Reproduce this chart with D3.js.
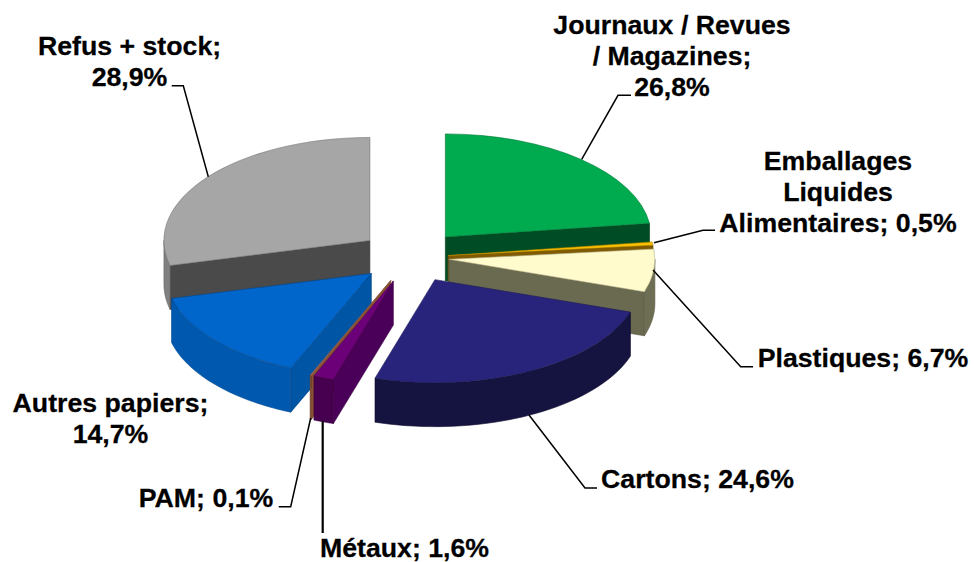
<!DOCTYPE html>
<html>
<head>
<meta charset="utf-8">
<script src="https://cdn.jsdelivr.net/npm/d3@7"></script>
<style>
  html, body { margin: 0; padding: 0; background: #fff; }
  text { font-family: "Liberation Sans", Arial, sans-serif; font-weight: bold; font-size: 25px; fill: #000; stroke: #000; stroke-width: 0.25; }
</style>
</head>
<body>
<svg id="chart" width="974" height="562"></svg>
<script>
// slices in drawing order, clockwise from the top
const categories = ['Journaux / Revues / Magazines', 'Emballages Liquides Alimentaires', 'Plastiques', 'Cartons', 'Métaux', 'PAM', 'Autres papiers', 'Refus + stock'];
// the printed labels add up to 103.9%: the green slice is drawn at about 22.9, not 26.8
const drawn_values = [22.9, 0.5, 6.7, 24.6, 1.6, 0.1, 14.7, 28.9];
const printed_labels = ['26,8%', '0,5%', '6,7%', '24,6%', '1,6%', '0,1%', '14,7%', '28,9%'];

const top_colors = ['#00AB50', '#FFC000', '#FFFBCC', '#28247C', '#6B0078', '#C8785A', '#0066CC', '#A6A6A6'];
const wall_colors = ['#004C24', '#7F5A00', '#6A6A50', '#15133F', '#4A0058', '#8A5030', '#0055A5', '#4A4A4A'];
const outer_colors = ['#004C24', '#7F5A00', '#6E6E55', '#15133F', '#46004F', '#8A5030', '#0059AF', '#808080'];

// the explosion is not the same for the two thin right hand slices
const explode_x = [0.253, 0.181, 0.185, 0.253, 0.253, 0.253, 0.253, 0.253];
const explode_y = [0.253, 0.08, 0.253, 0.253, 0.253, 0.253, 0.253, 0.253];
const paint_order = [7, 0, 1, 2, 6, 5, 4, 3];

const center = { x: 411, y: 256.5 };
const rx = 206, ry = 103, depth = 44;

const svg = d3.select('#chart');

const slices = d3.pie().sort(null).value(d => d)(drawn_values);
const arc = d3.arc().innerRadius(0).outerRadius(1);
const line = d3.line();

slices.forEach((s, i) => {
  const mid = (s.startAngle + s.endAngle) / 2;
  s.cx = center.x + explode_x[i] * rx * Math.sin(mid);
  s.cy = center.y - explode_y[i] * ry * Math.cos(mid);
});

const rim = (s, a, dy) => [s.cx + rx * Math.sin(a), s.cy - ry * Math.cos(a) + dy];

function drawSlice(i) {
  const s = slices[i];
  const g = svg.append('g');
  const a0 = s.startAngle, a1 = s.endAngle;

  // radial walls facing the viewer
  [a0, a1].forEach((a, k) => {
    const visible = k === 0 ? a > Math.PI : a < Math.PI;
    if (!visible) return;
    g.append('path')
      .attr('d', line([[s.cx, s.cy], rim(s, a, 0), rim(s, a, depth), [s.cx, s.cy + depth]]) + 'Z')
      .attr('fill', wall_colors[i])
      .attr('stroke', d3.color(wall_colors[i]).darker(0.6))
      .attr('stroke-width', 0.6);
  });

  // outer wall, only the front half of the ellipse shows
  const from = Math.max(a0, Math.PI / 2), to = Math.min(a1, Math.PI * 1.5);
  if (to > from) {
    const steps = d3.range(0, 41).map(t => from + (to - from) * t / 40);
    const pts = steps.map(a => rim(s, a, 0)).concat(steps.slice().reverse().map(a => rim(s, a, depth)));
    g.append('path')
      .attr('d', line(pts) + 'Z')
      .attr('fill', outer_colors[i])
      .attr('stroke', d3.color(outer_colors[i]).darker(0.6))
      .attr('stroke-width', 0.6);
  }

  // top face
  g.append('path')
    .attr('d', arc(s))
    .attr('transform', `translate(${s.cx},${s.cy}) scale(${rx},${ry})`)
    .attr('fill', top_colors[i])
    .attr('stroke', d3.color(top_colors[i]).darker(1))
    .attr('stroke-width', 0.6)
    .attr('vector-effect', 'non-scaling-stroke');
}

paint_order.forEach(drawSlice);

// leader lines and labels
const leaders = [
  [[581.7, 159.3], [618, 95.3], [631, 95.3]],
  [[654, 242.7], [703, 230.3], [715, 230.3]],
  [[653, 270], [740.7, 366.7], [753, 366.7]],
  [[529, 415], [585, 488], [597, 488]],
  [[322.7, 421], [322.7, 533]],
  [[310.7, 418], [290.7, 506.7], [278.7, 506.7]],
  [[208.3, 176.7], [183.3, 85.7], [171.7, 85.7]]
];
const leader_widths = [1.5, 1.5, 1.5, 1.5, 2.2, 1.5, 1.5];
svg.selectAll('.leader').data(leaders).enter().append('path')
  .attr('class', 'leader')
  .attr('d', d => line(d))
  .attr('fill', 'none')
  .attr('stroke', '#000')
  .attr('stroke-width', (d, i) => leader_widths[i]);

const label_lines = [
  ['Journaux / Revues', '/ Magazines;', printed_labels[0]],
  ['Emballages', 'Liquides', 'Alimentaires; ' + printed_labels[1]],
  ['Plastiques; ' + printed_labels[2]],
  ['Cartons; ' + printed_labels[3]],
  ['Métaux; ' + printed_labels[4]],
  ['PAM; ' + printed_labels[5]],
  ['Autres papiers;', printed_labels[6]],
  ['Refus + stock;', printed_labels[7]]
];
const label_pos = [[672, 34], [838, 170], [863, 367], [697.5, 488], [404.5, 557], [206, 507], [110.5, 412], [129.5, 55]];
const line_height = 31;
const text_stretch = 1.068;

svg.selectAll('.label').data(label_lines).enter().append('text')
  .attr('class', 'label')
  .attr('text-anchor', 'middle')
  .attr('transform', (d, i) => `translate(${label_pos[i][0]},${label_pos[i][1]}) scale(${text_stretch},1)`)
  .each(function (d) {
    d3.select(this).selectAll('tspan').data(d).enter().append('tspan')
      .attr('x', 0)
      .attr('y', (t, k) => k * line_height)
      .text(t => t);
  });
</script>
</body>
</html>
